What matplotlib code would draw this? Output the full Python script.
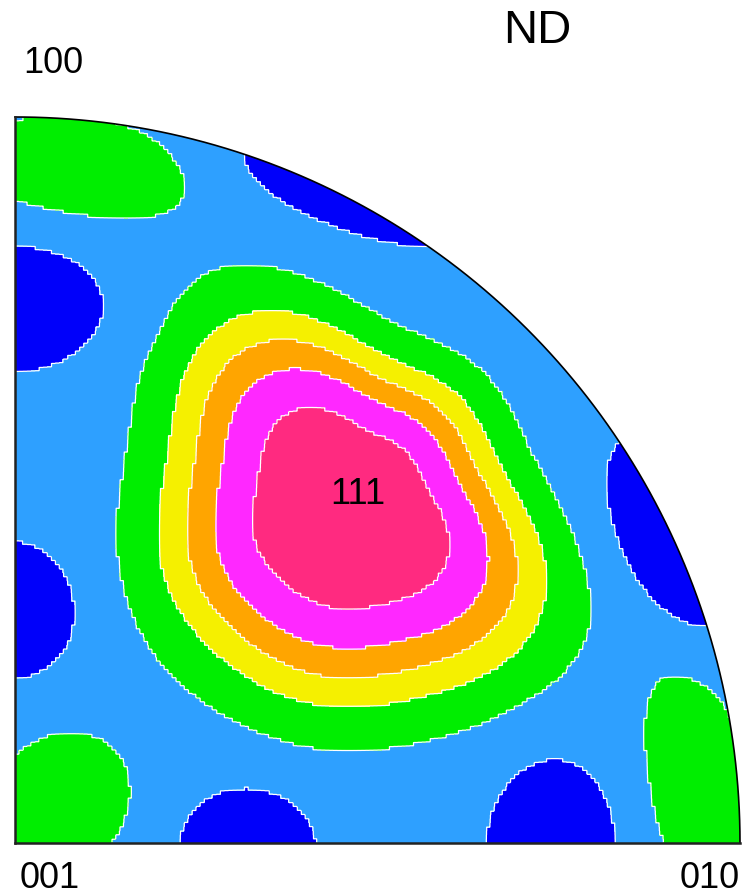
"""
Inverse pole figure (ND), equal-area quarter section with filled density contours.
"""

import numpy as np
import matplotlib
matplotlib.use("Agg")
import matplotlib.pyplot as plt
from matplotlib.patches import Wedge

plt.rcParams["font.family"] = ["Liberation Sans", "DejaVu Sans"]

# contour levels (multiples of random) and the fill colour of each band
levels = [-10.0, 0.6, 1.5, 1.9, 2.25, 2.65, 3.2, 10.0]
band_colors = ["#0000fa", "#2ea0ff", "#00ee00", "#f5f000",
               "#ffa500", "#ff28ff", "#ff2a80"]

background = 1.0

# main maximum near 111: centre, height, profile width and outline radii
peak_center = (0.462, 0.462)
peak_height = 3.0
peak_width = 0.9
peak_angles = np.arange(0, 360, 22.5)
peak_radii = [0.171, 0.154, 0.152, 0.153, 0.168, 0.211, 0.215, 0.193,
              0.186, 0.199, 0.192, 0.200, 0.194, 0.203, 0.214, 0.211]
n_harmonics = 5

# minor maxima (corners) and minima (rim / edges);
# widths are radial / tangential, tilt turns the blob away from the radial direction
blob_x = [0.076, 0.062, 0.942, 0.473, 0.000, 0.000, 0.320, 0.741, 0.906]
blob_y = [0.935, 0.055, 0.080, 0.898, 0.738, 0.319, 0.000, 0.000, 0.423]
blob_amp = [0.85, 0.85, 0.85, -3.0, -3.0, -3.0, -3.0, -3.0, -3.0]
blob_sig_r = [0.063, 0.087, 0.062, 0.031, 0.046, 0.050, 0.050, 0.047, 0.041]
blob_sig_t = [0.135, 0.085, 0.138, 0.092, 0.068, 0.046, 0.042, 0.064, 0.078]
blob_tilt = [0, 0, 0, 10, 0, 0, 0, 0, 0]

corner_labels = ["100", "001", "010"]
peak_label = "111"
direction_label = "ND"


def outline_radius(theta):
    """Low-order Fourier fit of the tabulated outline radii."""
    radii = np.asarray(peak_radii)
    n = len(radii)
    coef = np.fft.rfft(radii) / n
    r = np.full_like(theta, coef[0].real)
    for k in range(1, n_harmonics + 1):
        r += 2.0 * (coef[k] * np.exp(1j * k * theta)).real
    return r


def density(X, Y):
    Z = np.full_like(X, background)

    dx = X - peak_center[0]
    dy = Y - peak_center[1]
    rho = np.hypot(dx, dy) / outline_radius(np.arctan2(dy, dx))
    Z += peak_height * np.exp(-rho ** 2 / (2 * peak_width ** 2))

    for x0, y0, a, sr, st, tilt in zip(blob_x, blob_y, blob_amp,
                                       blob_sig_r, blob_sig_t, blob_tilt):
        phi = np.arctan2(y0, x0) + np.radians(tilt)
        u = (X - x0) * np.cos(phi) + (Y - y0) * np.sin(phi)
        v = -(X - x0) * np.sin(phi) + (Y - y0) * np.cos(phi)
        Z += a * np.exp(-0.5 * ((u / sr) ** 2 + (v / st) ** 2))
    return Z


# coarse measurement grid, blown up so the contours keep their steps
n_cells = 180
step = 4
xc = (np.arange(n_cells) + 0.5) / n_cells
X, Y = np.meshgrid(xc, xc)
Z = density(X, Y)
Zf = np.repeat(np.repeat(Z, step, axis=0), step, axis=1)
xf = (np.arange(n_cells * step) + 0.5) / (n_cells * step)

fig = plt.figure(figsize=(7.53, 8.96), dpi=100)
ax = fig.add_axes([15 / 753, 53 / 896, 725 / 753, 726 / 896])
ax.set_xlim(0, 1)
ax.set_ylim(0, 1)
ax.axis("off")

clip = Wedge((0, 0), 1.0, 0, 90, transform=ax.transData)

cf = ax.contourf(xf, xf, Zf, levels=levels, colors=band_colors, antialiased=False)
cf.set_clip_path(clip)
cl = ax.contour(xf, xf, Zf, levels=levels[1:-1], colors="white", linewidths=0.9)
cl.set_clip_path(clip)

# frame: two straight edges and the outer circle
t = np.linspace(0, np.pi / 2, 400)
ax.plot(np.cos(t), np.sin(t), color="black", lw=1.2, clip_on=False)
ax.plot([0, 0], [0, 1], color="#222222", lw=1.8, clip_on=False)
ax.plot([0, 1], [0, 0], color="#222222", lw=1.8, clip_on=False)

ax.text(0.473, 0.467, peak_label, ha="center", va="baseline", fontsize=26)

fig.text(537 / 753, 1 - 43 / 896, direction_label, ha="center", va="baseline", fontsize=34)
fig.text(53 / 753, 1 - 73 / 896, corner_labels[0], ha="center", va="baseline", fontsize=26)
fig.text(50 / 753, 1 - 888 / 896, corner_labels[1], ha="center", va="baseline", fontsize=26)
fig.text(710 / 753, 1 - 888 / 896, corner_labels[2], ha="center", va="baseline", fontsize=26)

fig.savefig("out.png", dpi=100)
